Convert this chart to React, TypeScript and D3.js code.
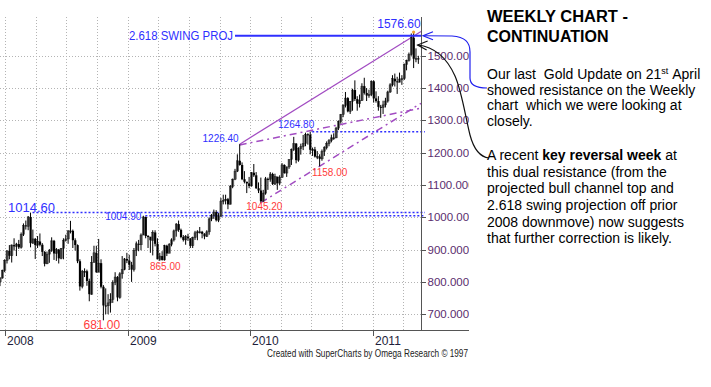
import React from 'react';
import * as d3 from 'd3';

// weekly gold futures, weeks starting Monday 17 Dec 2007
const firstWeek = '2007-12-17';
const firstOpen = 800;
const highs = [
  815, 838, 870, 898, 914, 916, 935, 921, 930, 953, 981, 990, 1004, 1014.6, 962, 936, 942, 950, 920, 895,
  894, 902, 938, 930, 905, 902, 905, 935, 946, 960, 989, 962, 935, 916, 870, 837, 842, 838, 810, 880,
  912, 912, 933, 870, 790, 780, 762, 765, 805, 830, 818, 830, 880, 874, 890,
  884, 862, 905, 925, 930, 950, 1004.9, 1002, 945, 938, 960, 960, 935, 890, 895, 915, 915, 920, 935, 962,
  982, 990, 965, 945, 945, 949, 935, 940, 958, 960, 970, 958, 951, 960, 1000, 1010, 1024, 1022, 1013, 1060,
  1070, 1070, 1060, 1100, 1120, 1150, 1195, 1226.4, 1170, 1143, 1110, 1125,
  1140, 1165, 1140, 1108, 1123, 1085, 1125, 1123, 1140, 1138, 1135, 1125, 1130, 1168, 1164, 1157, 1180, 1213, 1249, 1230,
  1217, 1228, 1255, 1262, 1260, 1264.8, 1216, 1218, 1205, 1195, 1210, 1220, 1235, 1242, 1256, 1260, 1280, 1300, 1320, 1350,
  1388, 1372, 1360, 1398, 1424, 1375, 1380, 1415, 1432, 1400, 1395, 1424,
  1424, 1390, 1375, 1348, 1361, 1370, 1392, 1415, 1440, 1445, 1435, 1448, 1440, 1476, 1488, 1510, 1569, 1576.6, 1523, 1500,
];
const lows = [
  787, 810, 830, 857, 870, 860, 897, 880, 902, 903, 942, 962, 960, 907, 918, 871, 905, 910, 880, 848,
  855, 859, 893, 868, 865, 857, 870, 870, 925, 918, 950, 905, 897, 858, 773, 780, 815, 788, 740, 760,
  860, 828, 830, 780, 681, 700, 700, 705, 735, 790, 740, 748, 810, 836, 858,
  837, 800, 832, 880, 895, 898, 945, 935, 905, 890, 882, 910, 870, 865, 866, 866, 880, 890, 910, 925,
  940, 955, 935, 925, 915, 927, 905, 905, 930, 929, 950, 935, 932, 939, 946, 988, 995, 987, 985, 1000,
  1040, 1040, 1025, 1040, 1090, 1115, 1140, 1160, 1115, 1105, 1075, 1090,
  1095, 1125, 1088, 1075, 1045.2, 1048, 1070, 1085, 1110, 1100, 1100, 1085, 1100, 1122, 1135, 1125, 1150, 1162, 1205, 1167,
  1172, 1194, 1208, 1220, 1225, 1195, 1190, 1185, 1180, 1158, 1175, 1190, 1210, 1220, 1232, 1240, 1245, 1270, 1290, 1310,
  1340, 1325, 1320, 1330, 1360, 1330, 1340, 1360, 1380, 1360, 1370, 1375,
  1355, 1355, 1330, 1308, 1320, 1340, 1355, 1385, 1405, 1405, 1382, 1418, 1410, 1425, 1455, 1482, 1500, 1462, 1480, 1475,
];
const closes = [
  812, 836, 866, 896, 881, 914, 910, 917, 907, 947, 975, 972, 1001, 920, 933, 914, 925, 915, 893, 856,
  886, 898, 927, 888, 900, 873, 904, 929, 933, 958, 958, 929, 914, 864, 786, 832, 833, 803, 762, 860,
  890, 830, 858, 785, 727, 726, 735, 746, 798, 815, 752, 825, 838, 871, 866,
  853, 838, 898, 918, 915, 945, 1001, 942, 940, 929, 953, 918, 870, 880, 868, 912, 888, 916, 930, 958,
  979, 961, 939, 930, 940, 935, 912, 937, 952, 955, 955, 949, 941, 955, 995, 1006, 1016, 991, 1004, 1050,
  1052, 1056, 1040, 1096, 1118, 1143, 1175, 1162, 1118, 1110, 1105, 1097,
  1138, 1130, 1090, 1083, 1050, 1075, 1119, 1118, 1134, 1103, 1126, 1106, 1124, 1162, 1137, 1156, 1179, 1210, 1228, 1177,
  1213, 1219, 1228, 1257, 1256, 1209, 1210, 1188, 1188, 1181, 1204, 1216, 1228, 1237, 1246, 1246, 1276, 1297, 1318, 1346,
  1369, 1328, 1359, 1394, 1366, 1352, 1362, 1406, 1385, 1377, 1380, 1421,
  1368, 1360, 1342, 1340, 1348, 1360, 1388, 1410, 1429, 1421, 1418, 1428, 1429, 1474, 1486, 1504, 1556, 1491, 1492, 1490,
];

const priceTicks = [700, 800, 900, 1000, 1100, 1200, 1300, 1400, 1500];
const yearTicks = ['2008', '2009', '2010', '2011'];

// swing highs / lows that carry a label
const highLabels = [
  ['2008-03-17', 1014.6],
  ['2009-02-16', 1004.9],
  ['2009-11-30', 1226.4],
  ['2010-06-28', 1264.8],
  ['2011-05-02', 1576.6],
];
const lowLabels = [
  ['2008-10-20', 681.0],
  ['2009-04-06', 865.0],
  ['2010-02-01', 1045.2],
  ['2010-07-26', 1158.0],
];

// resistance levels (dotted) and the swing projection
const dottedLevels = [
  ['2008-03-17', 1014.6],
  ['2009-02-16', 1004.9],
  ['2010-06-28', 1264.8],
];
const swingProj = 1562;

// trend lines: [start date, start price, end price at right edge]
const channelTop = ['2009-11-30', 1226.4, 1575];
const upperTrend = ['2009-11-30', 1224, 1338];
const lowerTrend = ['2010-02-01', 1045.2, 1353];

const font = "'Liberation Sans', Arial, sans-serif";
const blue = '#2f2fff';
const red = '#ff3b3b';
const purple = '#a24cc2';
const axisText = '#5a2d6e';
const sp = '\u00a0';

const parse = d3.utcParse('%Y-%m-%d');

const App = () => {
  const plotTop = 17;
  const plotBottom = 330;
  const plotRight = 421;

  const x = d3
    .scaleUtc()
    .domain([parse('2008-01-01'), parse('2011-01-01')])
    .range([5, 373]);
  const y = d3.scaleLinear().domain([1000, 1500]).range([217.3, 55.8]);
  const endDate = x.invert(plotRight);

  const dates = d3.utcMonday.every(1).range(parse(firstWeek), parse('2011-06-01')).slice(0, closes.length);
  const bars = closes.map((c, i) => ({
    date: dates[i],
    open: i ? closes[i - 1] : firstOpen,
    high: highs[i],
    low: lows[i],
    close: c,
  }));

  const quarters = d3.utcMonth.every(3).range(parse('2008-01-01'), endDate);
  const crisp = v => Math.round(v) + 0.5;

  const trend = ([d, p0, p1]) => ({ x1: x(parse(d)), y1: y(p0), x2: plotRight, y2: y(p1) });
  const top = trend(channelTop);
  const up = trend(upperTrend);
  const lo = trend(lowerTrend);

  const fmt = d3.format('.2f');
  const peak = bars.reduce((a, b) => (b.high > a.high ? b : a));

  return (
    <svg
      width={711}
      height={387}
      style={{ position: 'absolute', left: 0, top: 0, background: '#fff', fontFamily: font }}
    >
      {/* grid */}
      <g stroke="#b4b4b4" strokeDasharray="1,2">
        {priceTicks.map(t => (
          <line key={t} x1={0} x2={plotRight} y1={crisp(y(t))} y2={crisp(y(t))} />
        ))}
        {quarters.map(q => (
          <line key={+q} x1={crisp(x(q))} x2={crisp(x(q))} y1={plotTop} y2={plotBottom} />
        ))}
      </g>

      {/* resistance levels */}
      <g stroke={blue} strokeWidth={1.5} strokeDasharray="2,2">
        {dottedLevels.map(([d, p]) => (
          <line key={d} x1={x(parse(d)) + 2} x2={plotRight + 4} y1={y(p)} y2={y(p)} />
        ))}
      </g>

      {/* channel lines */}
      <line {...top} stroke={purple} strokeWidth={1.2} />
      <g stroke={purple} strokeWidth={1.5} strokeDasharray="7,4,2,4">
        <line {...up} />
        <line {...lo} />
      </g>

      {/* candles */}
      <g>
        {bars.map((b, i) => {
          const cx = x(b.date);
          const upBar = b.close >= b.open;
          const y0 = y(Math.max(b.open, b.close));
          const y1 = y(Math.min(b.open, b.close));
          return (
            <g key={i}>
              <rect
                x={cx - 1}
                y={y0}
                width={2.2}
                height={Math.max(1, y1 - y0)}
                fill={upBar ? '#8a8a8a' : '#000'}
                stroke={upBar ? '#333' : 'none'}
                strokeWidth={0.5}
              />
              <line x1={cx} x2={cx} y1={y(b.high)} y2={y(b.low)} stroke="#000" strokeWidth={1} />
            </g>
          );
        })}
      </g>
      <circle cx={x(peak.date)} cy={y(peak.high) + 1} r={1.6} fill="#f0a030" />

      {/* swing projection */}
      <line x1={235} x2={plotRight} y1={y(swingProj)} y2={y(swingProj)} stroke={blue} strokeWidth={2} />
      <text x={233} y={y(swingProj) + 4.5} textAnchor="end" fontSize={12.5} fill={blue} textLength={104} lengthAdjust="spacingAndGlyphs">
        2.618 SWING PROJ
      </text>

      {/* labels */}
      <g fill={blue}>
        {highLabels.map(([d, p], i) => {
          const cx = x(parse(d));
          const cy = y(p);
          const spec = [
            { dx: 1, dy: -1, size: 13, anchor: 'middle' },
            { dx: -2, dy: 4.5, size: 10, anchor: 'end' },
            { dx: -1, dy: -2, size: 10, anchor: 'end' },
            { dx: 4, dy: -3.5, size: 10, anchor: 'end' },
            { dx: 7, dy: -3.5, size: 12, anchor: 'end' },
          ][i];
          return (
            <text key={d} x={cx + spec.dx} y={cy + spec.dy} fontSize={spec.size} textAnchor={spec.anchor}>
              {fmt(p)}
            </text>
          );
        })}
      </g>
      <g fill={red} textAnchor="middle">
        {lowLabels.map(([d, p], i) => {
          const cx = x(parse(d));
          const cy = y(p);
          const spec = [
            { dx: -1.5, dy: 8.5, size: 12 },
            { dx: 5.5, dy: 9, size: 10 },
            { dx: 3.5, dy: 7.5, size: 10 },
            { dx: 10, dy: 10, size: 10 },
          ][i];
          return (
            <text key={d} x={cx + spec.dx} y={cy + spec.dy} fontSize={spec.size}>
              {fmt(p)}
            </text>
          );
        })}
      </g>

      {/* axes */}
      <line x1={crisp(plotRight)} x2={crisp(plotRight)} y1={plotTop} y2={plotBottom} stroke="#555" />
      <line x1={0} x2={470} y1={crisp(plotBottom)} y2={crisp(plotBottom)} stroke="#555" />
      <g fontSize={11.5} fill={axisText}>
        {priceTicks.map(t => (
          <g key={t}>
            <line x1={plotRight} x2={plotRight + 5} y1={crisp(y(t))} y2={crisp(y(t))} stroke="#555" />
            <text x={plotRight + 6.5} y={y(t) + 4}>
              {d3.format('.3f')(t)}
            </text>
          </g>
        ))}
      </g>
      <rect x={469} y={0} width={15} height={387} fill="#fff" />
      <g fontSize={12} fill="#1d1d3a">
        {yearTicks.map(t => {
          const px = crisp(x(parse(t + '-01-01')));
          return (
            <g key={t}>
              <line x1={px} x2={px} y1={plotBottom} y2={plotBottom + 6} stroke="#555" />
              <text x={px + 1.5} y={345}>
                {t}
              </text>
            </g>
          );
        })}
      </g>
      <text x={267} y={357} fontSize={11} fill="#222" textLength={201} lengthAdjust="spacingAndGlyphs">
        Created with SuperCharts by Omega Research © 1997
      </text>

      {/* commentary */}
      <g fill="#000">
        <text x={487} y={22} fontSize={16} fontWeight="bold" textLength={141} lengthAdjust="spacingAndGlyphs">
          WEEKLY CHART -
        </text>
        <text x={487} y={42} fontSize={16} fontWeight="bold">
          CONTINUATION
        </text>
        <g fontSize={14}>
          <text x={487} y={79}>
            {`Our last${sp} Gold Update on 21`}
            <tspan fontSize={9} dy={-5}>st</tspan>
            <tspan dy={5}>{`${sp}April`}</tspan>
          </text>
          <text x={487} y={94.7}>showed resistance on the Weekly</text>
          <text x={487} y={110.3}>{`chart${sp} which we were looking at`}</text>
          <text x={487} y={126}>closely.</text>
          <text x={487} y={160}>
            A recent <tspan fontWeight="bold">key reversal week</tspan> at
          </text>
          <text x={487} y={176.7}>this dual resistance (from the</text>
          <text x={487} y={193.3}>projected bull channel top and</text>
          <text x={487} y={210}>2.618 swing projection off prior</text>
          <text x={487} y={226.7}>2008 downmove) now suggests</text>
          <text x={487} y={243.3}>that further correction is likely.</text>
        </g>
      </g>

      {/* arrows from the commentary to the top */}
      <g fill="none" strokeWidth={1.2}>
        <path
          d={`M487,88 C476,88 470,85 470,78 L470,52 C470,42 465,37 452,36 L${plotRight + 3},${y(swingProj)}`}
          stroke="#2020ee"
        />
        <path
          d={`M${plotRight + 12},${y(swingProj) - 4} L${plotRight + 2},${y(swingProj)} L${plotRight + 12},${y(swingProj) + 4}`}
          stroke="#2020ee"
        />
        <path
          d={`M489,158 C480,157 474,150 470,135 C465,115 462,92 455,76 C447,58 435,47 ${x(peak.date) + 4},45`}
          stroke="#111"
        />
        <path d={`M${x(peak.date) + 14},41 L${x(peak.date) + 4},45 L${x(peak.date) + 13},50`} stroke="#111" />
      </g>
    </svg>
  );
};

export default App;
